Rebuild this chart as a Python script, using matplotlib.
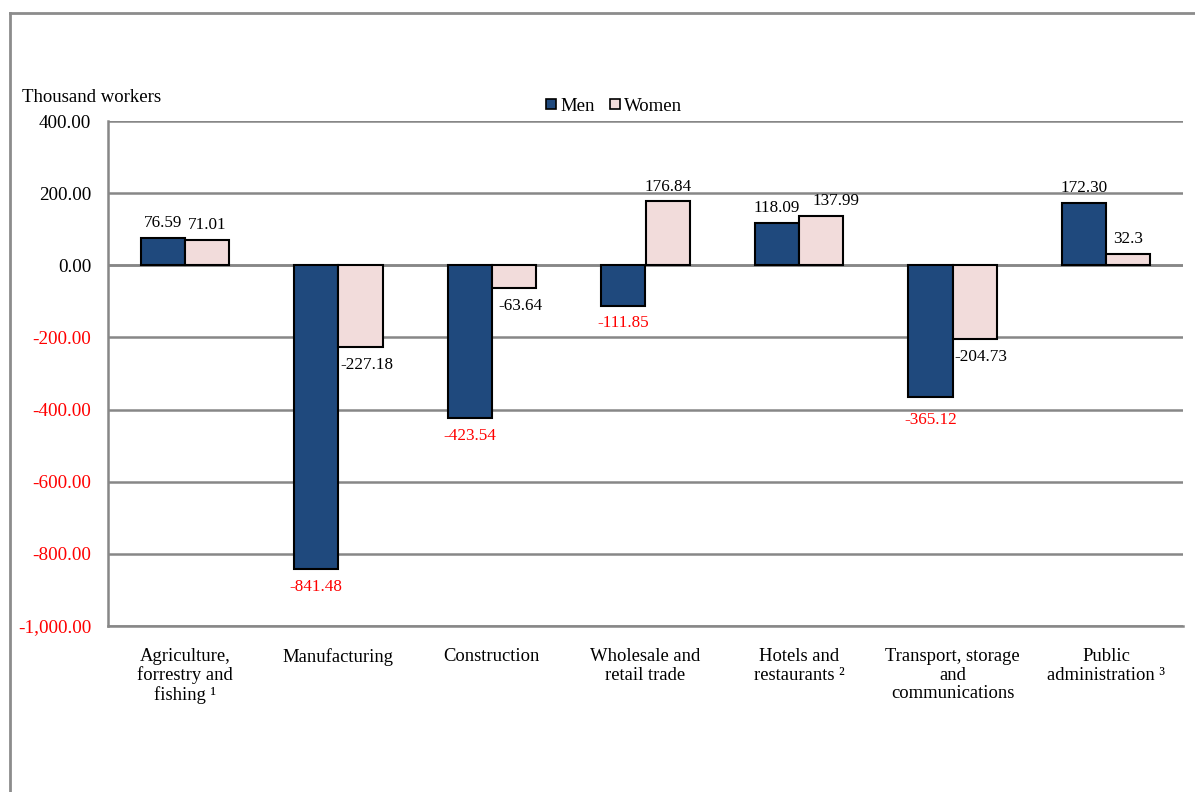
import matplotlib.pyplot as plt
import numpy as np
from matplotlib.lines import Line2D

plt.rcParams['font.family'] = ['Liberation Serif', 'DejaVu Serif']

sectors = [
    "Agriculture,\nforrestry and\nfishing \u00b9",
    "Manufacturing",
    "Construction",
    "Wholesale and\nretail trade",
    "Hotels and\nrestaurants \u00b2",
    "Transport, storage\nand\ncommunications",
    "Public\nadministration \u00b3",
]
men = [76.59, -841.48, -423.54, -111.85, 118.09, -365.12, 172.30]
women = [71.01, -227.18, -63.64, 176.84, 137.99, -204.73, 32.3]
men_labels = ["76.59", "-841.48", "-423.54", "-111.85", "118.09", "-365.12", "172.30"]
women_labels = ["71.01", "-227.18", "-63.64", "176.84", "137.99", "-204.73", "32.3"]

men_color = "#1f497d"
women_color = "#f2dcdb"
grid_color = "#878787"

fig = plt.figure(figsize=(11.95, 7.92), dpi=100)
ax = fig.add_axes([108 / 1195, 1 - 626 / 792, (1183 - 108) / 1195, (626 - 121) / 792])

x = np.arange(len(sectors))
w = 0.288
ax.bar(x - w / 2, men, w, color=men_color, edgecolor="black", linewidth=1.5, zorder=3)
ax.bar(x + w / 2, women, w, color=women_color, edgecolor="black", linewidth=1.5, zorder=3)

ax.set_xlim(-0.5, len(sectors) - 0.5)
ax.set_ylim(-1000, 400)
yt = np.arange(-1000, 401, 200)
ax.set_yticks(yt)
ax.set_yticklabels([f"{v:,.2f}" for v in yt], fontsize=13.8)
for lab, v in zip(ax.get_yticklabels(), yt):
    lab.set_color("red" if v < 0 else "black")
ax.tick_params(axis="y", length=0, pad=12)
ax.tick_params(axis="x", length=0, pad=16)
ax.set_xticks(x)
ax.set_xticklabels(sectors, fontsize=13.4, linespacing=1.1)

ax.grid(axis="y", color=grid_color, linewidth=1.8, zorder=0)
for side in ["top", "right"]:
    ax.spines[side].set_visible(False)
for side in ["left", "bottom"]:
    ax.spines[side].set_color(grid_color)
    ax.spines[side].set_linewidth(1.8)
ax.axhline(0, color=grid_color, linewidth=1.8, zorder=2)

# value labels (small nudges keep neighbouring labels apart)
men_nudge = [0, 0, 0, 0, 0, -4, 0]
women_nudge = [0, 0, 0, 0, 0.1, 0, 0]
for xi, v, s, dy in zip(x - w / 2, men, men_labels, men_nudge):
    if v >= 0:
        ax.annotate(s, (xi, v), xytext=(0, 5), textcoords="offset points",
                    ha="center", va="bottom", fontsize=12.3)
    else:
        ax.annotate(s, (xi, v), xytext=(0, -7 + dy), textcoords="offset points",
                    ha="center", va="top", fontsize=12.3, color="red")
for xi, v, s, dx in zip(x + w / 2, women, women_labels, women_nudge):
    if v >= 0:
        ax.annotate(s, (xi + dx, v), xytext=(0, 5), textcoords="offset points",
                    ha="center", va="bottom", fontsize=12.3)
    else:
        ax.annotate(s, (xi + 0.04, v), xytext=(0, -7), textcoords="offset points",
                    ha="center", va="top", fontsize=12.3)

fig.text(22 / 1195, 1 - 98 / 792, "Thousand workers", fontsize=13.5, va="center", ha="left")

handles = [
    Line2D([], [], marker="s", linestyle="none", markersize=7.5, markerfacecolor=men_color,
           markeredgecolor="black", markeredgewidth=1.2),
    Line2D([], [], marker="s", linestyle="none", markersize=7.5, markerfacecolor=women_color,
           markeredgecolor="black", markeredgewidth=1.2),
]
fig.legend(handles, ["Men", "Women"], loc="center", bbox_to_anchor=(614 / 1195, 1 - 106 / 792),
           ncol=2, frameon=False, fontsize=13.5, handlelength=0.55, handletextpad=0.2,
           columnspacing=0.8)

# outer chart frame
fig.add_artist(Line2D([10 / 1195, 1.0], [1 - 13 / 792] * 2, color="#8c8c8c", linewidth=2,
                      transform=fig.transFigure))
fig.add_artist(Line2D([10 / 1195] * 2, [0.0, 1 - 13 / 792], color="#8c8c8c", linewidth=2,
                      transform=fig.transFigure))

fig.savefig("out.png", dpi=100)
